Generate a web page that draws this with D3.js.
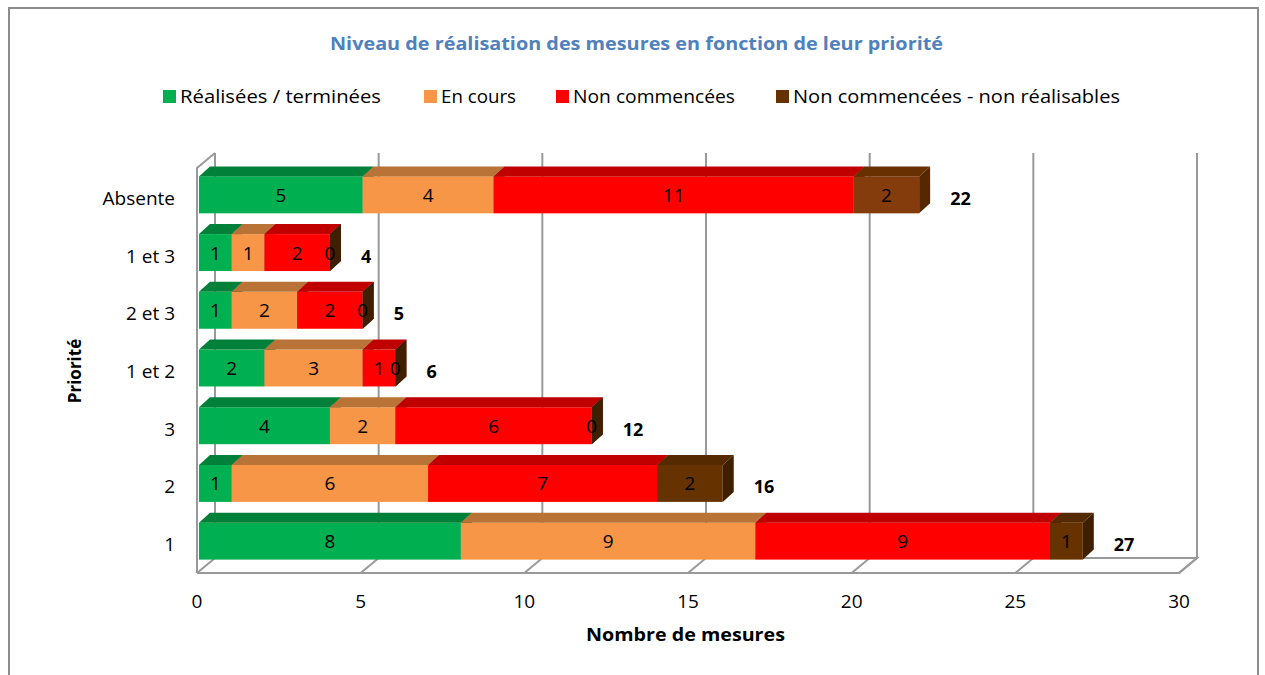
<!DOCTYPE html>
<html>
<head>
<meta charset="utf-8">
<script src="https://cdn.jsdelivr.net/npm/d3@7"></script>
<style>
  body { margin: 0; background: #fff; }
  svg { display: block; font-family: "Open Sans", "DejaVu Sans", sans-serif; }
</style>
</head>
<body>
<svg id="chart" width="1265" height="675"></svg>
<script>
// categories, top to bottom
const categories = ['Absente', '1 et 3', '2 et 3', '1 et 2', '3', '2', '1'];
const seriesNames = ['Réalisées / terminées', 'En cours', 'Non commencées', 'Non commencées - non réalisables'];

// values per series, in category order
const realisees = [5, 1, 1, 2, 4, 1, 8];
const enCours = [4, 1, 2, 3, 2, 6, 9];
const nonCommencees = [11, 2, 2, 1, 6, 7, 9];
const nonRealisables = [2, 0, 0, 0, 0, 2, 1];

const xTicks = [0, 5, 10, 15, 20, 25, 30];

const svg = d3.select('#chart');

// face colours: front, top, side
const palette = [
    { front: '#00b050', top: '#008038', side: '#006a2e' },
    { front: '#f79646', top: '#b97336', side: '#9a5a25' },
    { front: '#ff0000', top: '#c00000', side: '#900000' },
    { front: '#663300', top: '#552a00', side: '#3f1f00' }
];
const legendColors = ['#00b050', '#f79646', '#ff0000', '#663300'];

// 3d depth of the walls and of the bars
const wallDx = 18, wallDy = -15;
const barDx = 11, barDy = -10;

const x = d3.scaleLinear().domain([0, 30]).range([197, 1179]);
const y = d3.scaleBand().domain(categories).range([166, 570]).paddingInner(0.36).paddingOuter(0.18);
const floorY = 573, wallTop = 168;

// outer frame
svg.append('rect')
    .attr('x', 9).attr('y', 8)
    .attr('width', 1249).attr('height', 690)
    .attr('fill', 'none').attr('stroke', '#8c8c8c').attr('stroke-width', 2);

// title (wide geometric face in the original, so stretch to its width)
svg.append('text')
    .attr('x', 330).attr('y', 50)
    .attr('font-size', 17).attr('font-weight', 'bold')
    .attr('fill', '#4f81bd')
    .attr('textLength', 613).attr('lengthAdjust', 'spacingAndGlyphs')
    .text('Niveau de réalisation des mesures en fonction de leur priorité');

// legend
const legendX = [163, 424, 556, 776];
const legendW = [201, 75, 162, 327];
const legend = svg.append('g');
seriesNames.forEach(function (name, i) {
    legend.append('rect')
        .attr('x', legendX[i]).attr('y', 90)
        .attr('width', 13).attr('height', 13)
        .attr('fill', legendColors[i]);
    legend.append('text')
        .attr('x', legendX[i] + 17).attr('y', 103)
        .attr('font-size', 18)
        .attr('fill', '#000')
        .attr('textLength', legendW[i]).attr('lengthAdjust', 'spacingAndGlyphs')
        .text(name);
});

// walls and gridlines
const grid = svg.append('g')
    .attr('stroke', '#999').attr('stroke-width', 2).attr('fill', 'none');

// back wall gridlines
xTicks.forEach(function (t) {
    grid.append('line')
        .attr('x1', x(t) + wallDx).attr('x2', x(t) + wallDx)
        .attr('y1', wallTop + wallDy).attr('y2', floorY + wallDy);
    // floor diagonals
    grid.append('line')
        .attr('x1', x(t)).attr('x2', x(t) + wallDx)
        .attr('y1', floorY).attr('y2', floorY + wallDy);
});
// left side wall
grid.append('path')
    .attr('d', `M${x(0)},${floorY}V${wallTop}L${x(0) + wallDx},${wallTop + wallDy}`);
// floor
grid.append('path')
    .attr('d', `M${x(0)},${floorY}H${x(30)}L${x(30) + wallDx},${floorY + wallDy}H${x(0) + wallDx}`);

// x tick labels
svg.append('g').selectAll('text')
    .data(xTicks)
    .enter()
    .append('text')
    .attr('x', function (d) { return x(d); })
    .attr('y', 608)
    .attr('text-anchor', 'middle')
    .attr('font-size', 19)
    .text(function (d) { return d; });

// y labels
svg.append('g').selectAll('text')
    .data(categories)
    .enter()
    .append('text')
    .attr('x', 175)
    .attr('y', function (d) { return y(d) + y.bandwidth() / 2 + 10; })
    .attr('text-anchor', 'end')
    .attr('font-size', 19)
    .text(function (d) { return d; });

// axis titles
svg.append('text')
    .attr('x', 586).attr('y', 641)
    .attr('font-size', 17).attr('font-weight', 'bold')
    .attr('textLength', 199).attr('lengthAdjust', 'spacingAndGlyphs')
    .text('Nombre de mesures');
svg.append('text')
    .attr('transform', 'translate(81,371) rotate(-90)')
    .attr('text-anchor', 'middle')
    .attr('font-size', 17).attr('font-weight', 'bold')
    .text('Priorité');

// stacked 3d bars
const rows = categories.map(function (c, i) {
    return { cat: c, values: [realisees[i], enCours[i], nonCommencees[i], nonRealisables[i]] };
});

const bars = svg.append('g');
rows.forEach(function (row) {
    const y0 = y(row.cat), h = y.bandwidth();
    let acc = 0;
    const g = bars.append('g');
    row.values.forEach(function (v, s) {
        const x0 = x(acc) + 2, x1 = x(acc + v) + 2;
        let col = palette[s];
        // the "Absente" brown block is a lighter shade
        if (s === 3 && row.cat === 'Absente') {
            col = { front: '#843c0c', top: '#683000', side: '#552800' };
        }
        if (v > 0) {
            g.append('rect')
                .attr('x', x0).attr('y', y0)
                .attr('width', x1 - x0).attr('height', h)
                .attr('fill', col.front);
            g.append('path')
                .attr('d', `M${x0},${y0}L${x0 + barDx},${y0 + barDy}H${x1 + barDx}L${x1},${y0}Z`)
                .attr('fill', col.top);
        }
        g.append('path')
            .attr('d', `M${x1},${y0}L${x1 + barDx},${y0 + barDy}V${y0 + h + barDy}L${x1},${y0 + h}Z`)
            .attr('fill', col.side);
        acc += v;
    });
    // segment labels
    acc = 0;
    row.values.forEach(function (v) {
        g.append('text')
            .attr('x', (x(acc) + x(acc + v)) / 2 + 2)
            .attr('y', y0 + h / 2 + 7)
            .attr('text-anchor', 'middle')
            .attr('font-size', 19)
            .text(v);
        acc += v;
    });
    // total
    g.append('text')
        .attr('x', x(acc) + 33)
        .attr('y', y0 + h / 2 + 10)
        .attr('font-size', 18).attr('font-weight', 'bold')
        .text(d3.sum(row.values));
});
</script>
</body>
</html>
